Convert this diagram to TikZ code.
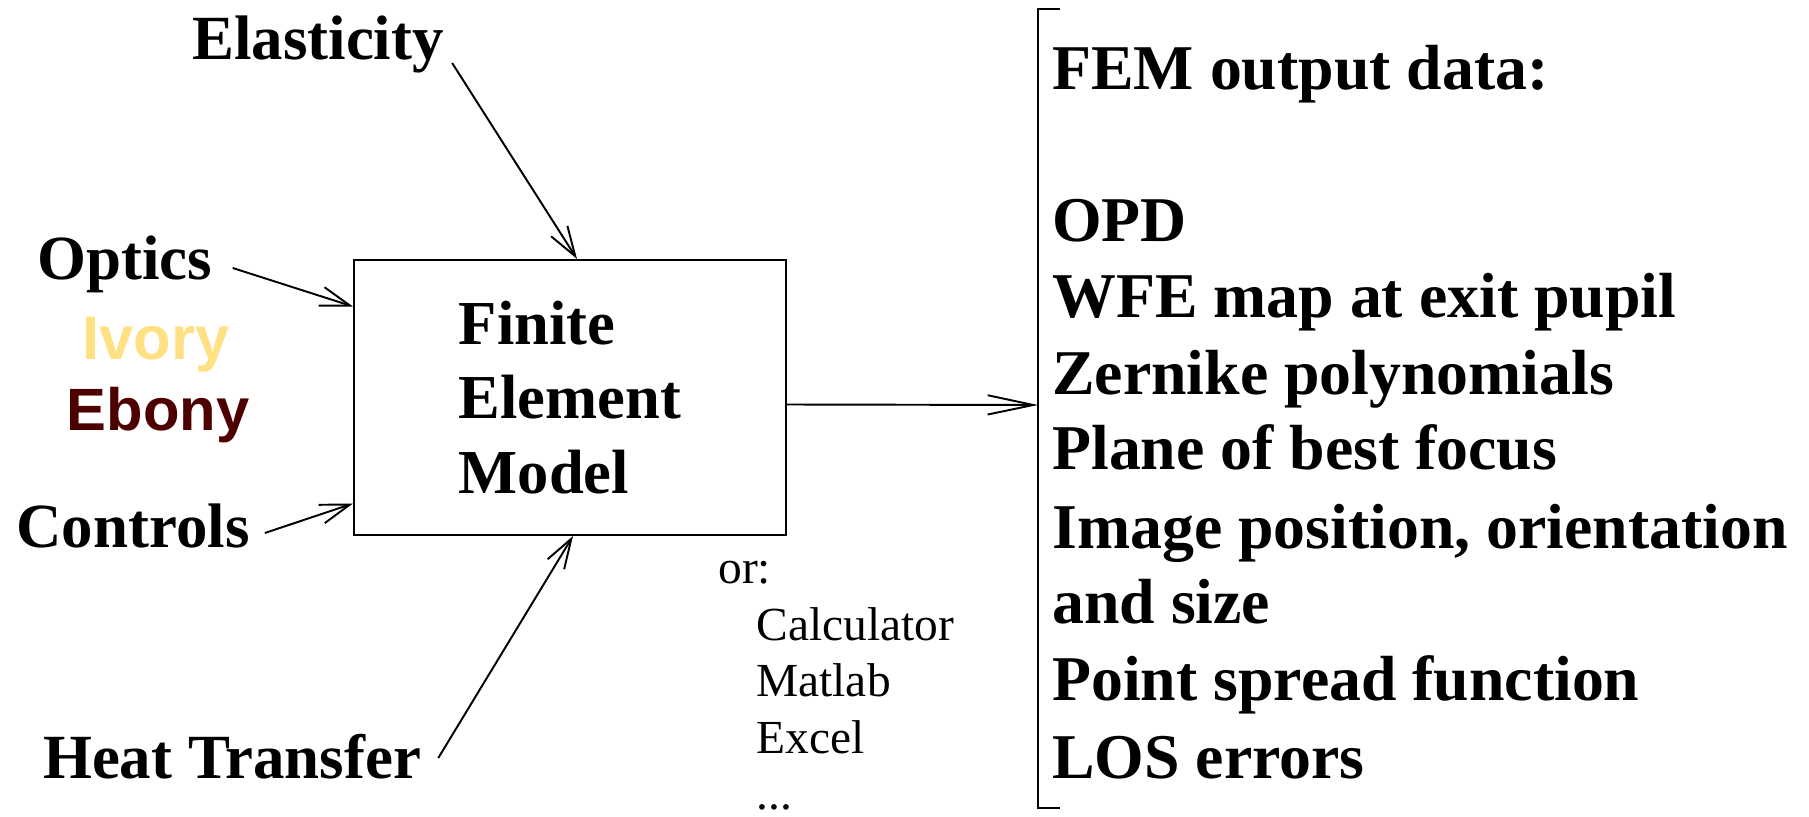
\documentclass[tikz,border=0pt]{standalone}
\usepackage{fontspec}
\setmainfont{Liberation Serif}
\newfontfamily\labelsans{Liberation Sans}
\usetikzlibrary{arrows.meta}

\definecolor{ivorytone}{RGB}{255,224,130}
\definecolor{ebonytone}{RGB}{76,0,0}

\begin{document}
\begin{tikzpicture}[x=0.02cm, y=-0.02cm,
	lbl/.style={inner sep=0pt, anchor=base, font=\fontsize{35.8}{42}\selectfont\bfseries},
	tone/.style={inner sep=0pt, anchor=base, font=\fontsize{34}{40}\selectfont\labelsans\bfseries},
	outline/.style={inner sep=0pt, anchor=base west, font=\fontsize{36.3}{43}\selectfont\bfseries},
	tool/.style={inner sep=0pt, anchor=base west, font=\fontsize{27}{32}\selectfont},
	feed/.style={line width=1.1pt, -{Straight Barb[length=17pt, width=11pt]}},
	result/.style={line width=1.1pt, -{Straight Barb[length=26pt, width=11pt]}}]
	
	\useasboundingbox (0,0) rectangle (1809,817);
	
	% the model
	\node[draw, line width=1.2pt, inner sep=0pt, minimum width=8.64cm, minimum height=5.5cm,
		align=left, font=\fontsize{35.6}{42.5}\selectfont\bfseries] (fem) at (570,397.5) {Finite\\Element\\Model};
	
	% inputs
	\node[lbl] (elast) at (318,60) {Elasticity};
	\node[lbl] (optics) at (125,280) {Optics};
	\node[tone, font=\fontsize{35}{40}\selectfont\labelsans\bfseries, text=ivorytone] (ivory) at (156,360) {Ivory};
	\node[tone, text=ebonytone] (ebony) at (158,431) {Ebony};
	\node[lbl] (controls) at (133,547) {Controls};
	\node[lbl] (heat) at (232,778) {Heat Transfer};
	
	\draw[feed] ([shift={(8,3)}]elast.base east) -- ([shift={(7,0)}]fem.north);
	\draw[feed] ([shift={(20,-12)}]optics.base east) -- ([shift={(0,-91)}]fem.west);
	\draw[feed] ([shift={(15,-14)}]controls.base east) -- ([shift={(0,106)}]fem.west);
	\draw[feed] ([shift={(17,-20)}]heat.base east) -- ([shift={(3,0)}]fem.south);
	
	% other tools
	\node[tool] (or) at (718,583) {or:};
	\node[tool] (calc) at (756,640) {Calculator};
	\node[tool] (matlab) at (756,696) {Matlab};
	\node[tool] (excel) at (756,753) {Excel};
	\node[tool] (more) at (756,809) {...};
	
	% output bracket
	\coordinate (brtop) at (1038,9);
	\coordinate (brbot) at (1038,808);
	\coordinate (brmid) at (1038,405);
	\draw[line width=1.1pt] ([shift={(22,0)}]brtop) -- (brtop) -- (brbot) -- ([shift={(22,0)}]brbot);
	\draw[result] ([shift={(0,7)}]fem.east) -- (brmid);
	
	% output list
	\node[outline] (fem0) at (1052,90) {FEM output data:};
	\node[outline] (opd) at (1052,242) {OPD};
	\node[outline] (wfe) at (1052,318) {WFE map at exit pupil};
	\node[outline] (zern) at (1052,395) {Zernike polynomials};
	\node[outline] (focus) at (1052,470) {Plane of best focus};
	\node[outline] (image) at (1052,548) {Image position, orientation};
	\node[outline] (size) at (1052,623) {and size};
	\node[outline] (psf) at (1052,700) {Point spread function};
	\node[outline] (los) at (1052,778) {LOS errors};
	
\end{tikzpicture}
\end{document}
